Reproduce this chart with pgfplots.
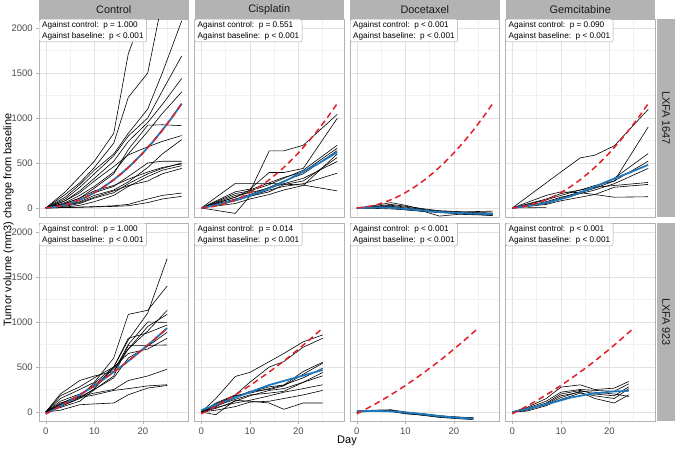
\documentclass[border=0pt]{standalone}
\usepackage{pgfplots}
\pgfplotsset{compat=1.18}
\usepackage{fontspec}
\setmainfont{Liberation Sans}
\definecolor{stripgray}{RGB}{179,179,179}
\definecolor{bordergray}{RGB}{179,179,179}
\definecolor{gridmaj}{RGB}{226,226,226}
\definecolor{gridmin}{RGB}{241,241,241}
\definecolor{fitblue}{RGB}{30,120,190}
\definecolor{ctrlred}{RGB}{226,30,38}
\definecolor{ticktext}{RGB}{77,77,77}
\definecolor{striptext}{RGB}{26,26,26}
\pgfplotsset{
  panel/.style={
    scale only axis, width=149.5pt, height=198pt, anchor=north west,
    xmin=-1.4, xmax=29.4, ymin=-100, ymax=2100,
    xtick={0,10,20}, minor xtick={5,15,25},
    ytick={0,500,1000,1500,2000}, minor ytick={250,750,1250,1750},
    grid=both,
    major grid style={draw=gridmaj, line width=0.55pt},
    minor grid style={draw=gridmin, line width=0.35pt},
    axis line style={draw=bordergray, line width=0.6pt},
    tick align=outside, xtick pos=left, ytick pos=left,
    major tick length=2.75pt, minor tick length=0pt,
    xtick style={draw=none}, ytick style={draw=none},
    xticklabels={}, yticklabels={},
    /pgf/number format/assume math mode=true,
    ticklabel style={font=\fontsize{9.5}{9.5}\selectfont, text=ticktext},
    clip mode=individual,
  },
  leftcol/.style={yticklabels={0,500,1000,1500,2000}, ytick style={draw=bordergray, line width=0.5pt}},
  bottomrow/.style={xticklabels={0,10,20}, xtick style={draw=bordergray, line width=0.5pt},
    xticklabel style={yshift=-0.6pt}},
}
\tikzset{
  ind/.style={black, line width=0.6pt, line join=round},
  bluefit/.style={fitblue, line width=1.8pt, line join=round},
  redfit/.style={ctrlred, line width=1.5pt, dash pattern=on 6pt off 4pt},
  pbox/.style={anchor=north west, draw=gray!70, fill=white, rounded corners=2pt,
    inner xsep=3pt, inner ysep=2.2pt, align=left, font=\fontsize{8.2}{10.7}\selectfont},
  stript/.style={text=striptext, font=\fontsize{10.9}{13}\selectfont},
}
\newcommand{\redA}{\addplot[redfit] coordinates {(0,0)(2,12)(4,35)(6,69)(8,114)(10,170)(12,237)(14,314)(16,402)(18,502)(20,612)(22,732)(24,864)(26,1006)(28,1160)};}
\newcommand{\redB}{\addplot[redfit] coordinates {(0,-20)(2,36)(4,95)(6,158)(8,224)(10,294)(12,368)(14,445)(16,525)(18,609)(20,698)(22,789)(24,884)(25,933)};}
\newcommand{\pb}[2]{\node[pbox] at (rel axis cs:0,1) {Against control:\ \ p #1\\Against baseline:\ \ p #2};}
\begin{document}
\begin{tikzpicture}
\path[use as bounding box] (0pt,0pt) rectangle (675pt,-448pt);
% ---------- Row 1: LXFA 1647 ----------
\begin{axis}[panel, leftcol, at={(39pt,-19pt)}]
\addplot[ind] coordinates {(0,0)(4,180)(7,350)(10,520)(14,830)(17,1715)(21,2300)(24,2700)(28,3000)};
\addplot[ind] coordinates {(0,0)(4,150)(7,280)(10,450)(14,720)(17,1230)(21,1500)(24,2300)(28,2700)};
\addplot[ind] coordinates {(0,0)(4,120)(7,260)(10,420)(14,600)(17,830)(21,1100)(24,1500)(28,2080)};
\addplot[ind] coordinates {(0,0)(4,100)(7,230)(10,380)(14,580)(17,800)(21,1000)(24,1300)(28,1690)};
\addplot[ind] coordinates {(0,0)(4,80)(7,190)(10,330)(14,520)(17,740)(21,950)(24,1150)(28,1440)};
\addplot[ind] coordinates {(0,0)(4,60)(7,140)(10,240)(14,400)(17,600)(21,850)(24,1050)(28,1290)};
\addplot[ind] coordinates {(0,0)(4,50)(7,110)(10,220)(14,380)(17,650)(21,920)(24,925)(28,915)};
\addplot[ind] coordinates {(0,0)(4,80)(7,170)(10,300)(14,460)(17,590)(21,680)(24,740)(28,805)};
\addplot[ind] coordinates {(0,0)(4,30)(7,70)(10,140)(14,200)(17,290)(21,450)(24,600)(28,760)};
\addplot[ind] coordinates {(0,0)(4,40)(7,90)(10,170)(14,240)(17,350)(21,500)(24,520)(28,520)};
\addplot[ind] coordinates {(0,0)(4,20)(7,50)(10,110)(14,170)(17,270)(21,380)(24,440)(28,500)};
\addplot[ind] coordinates {(0,0)(4,50)(7,110)(10,190)(14,250)(17,320)(21,400)(24,450)(28,490)};
\addplot[ind] coordinates {(0,0)(4,10)(7,30)(10,70)(14,140)(17,240)(21,350)(24,420)(28,470)};
\addplot[ind] coordinates {(0,0)(4,30)(7,60)(10,120)(14,190)(17,250)(21,300)(24,380)(28,440)};
\addplot[ind] coordinates {(0,0)(4,5)(7,10)(10,15)(14,25)(17,40)(21,100)(24,140)(28,166)};
\addplot[ind] coordinates {(0,0)(4,5)(7,8)(10,12)(14,18)(17,25)(21,60)(24,100)(28,130)};
\addplot[bluefit] coordinates {(0,0)(2,12)(4,35)(6,69)(8,114)(10,170)(12,237)(14,314)(16,402)(18,502)(20,612)(22,732)(24,864)(26,1006)(28,1160)};
\redA
\pb{= 1.000}{< 0.001}
\end{axis}
\begin{axis}[panel, at={(194.5pt,-19pt)}]
\addplot[ind] coordinates {(0,0)(7,120)(10,181)(14,635)(17,635)(21,697)(28,1040)};
\addplot[ind] coordinates {(0,0)(7,180)(10,210)(14,395)(17,395)(21,440)(28,996)};
\addplot[ind] coordinates {(0,0)(7,273)(10,273)(14,273)(17,265)(21,255)(28,190)};
\addplot[ind] coordinates {(0,0)(7,160)(10,190)(14,260)(17,330)(21,420)(28,697)};
\addplot[ind] coordinates {(0,0)(7,120)(10,200)(14,280)(17,340)(21,400)(28,664)};
\addplot[ind] coordinates {(0,0)(7,100)(10,150)(14,230)(17,300)(21,380)(28,638)};
\addplot[ind] coordinates {(0,0)(7,140)(10,170)(14,220)(17,270)(21,330)(28,517)};
\addplot[ind] coordinates {(0,0)(7,80)(10,130)(14,200)(17,240)(21,270)(28,387)};
\addplot[ind] coordinates {(0,0)(7,-60)(10,130)(14,180)(17,260)(21,300)(28,560)};
\addplot[ind] coordinates {(0,0)(7,50)(10,100)(14,150)(17,200)(21,250)(28,600)};
\addplot[bluefit] coordinates {(0,0)(4,45)(8,100)(12,175)(16,265)(20,375)(24,490)(28,620)};
\redA
\pb{= 0.551}{< 0.001}
\end{axis}
\begin{axis}[panel, at={(350pt,-19pt)}]
\addplot[ind] coordinates {(0,0)(4,30)(7,60)(10,30)(14,-20)(17,-40)(21,-50)(24,-55)(28,-60)};
\addplot[ind] coordinates {(0,0)(4,20)(7,40)(10,20)(14,-10)(17,-30)(21,-40)(24,-50)(28,-55)};
\addplot[ind] coordinates {(0,0)(4,10)(7,20)(10,0)(14,-30)(17,-50)(21,-60)(24,-70)(28,-75)};
\addplot[ind] coordinates {(0,0)(4,0)(7,10)(10,-10)(14,-40)(17,-90)(21,-70)(24,-75)(28,-80)};
\addplot[ind] coordinates {(0,0)(4,10)(7,0)(10,-20)(14,-40)(17,-50)(21,-60)(24,-70)(28,-85)};
\addplot[ind] coordinates {(0,0)(4,5)(7,15)(10,-5)(14,-30)(17,-40)(21,-45)(24,-40)(28,-35)};
\addplot[ind] coordinates {(0,0)(4,15)(7,30)(10,10)(14,-20)(17,-35)(21,-50)(24,-60)(28,-65)};
\addplot[ind] coordinates {(0,0)(4,-5)(7,-10)(10,-20)(14,-35)(17,-45)(21,-55)(24,-65)(28,-70)};
\addplot[bluefit] coordinates {(0,0)(4,5)(7,5)(10,-10)(14,-30)(17,-45)(21,-55)(24,-62)(28,-68)};
\redA
\pb{< 0.001}{< 0.001}
\end{axis}
\begin{axis}[panel, at={(505.5pt,-19pt)}]
\addplot[ind] coordinates {(0,0)(7,280)(10,400)(14,557)(17,587)(21,690)(28,1096)};
\addplot[ind] coordinates {(0,0)(7,70)(10,120)(14,170)(17,220)(21,300)(28,900)};
\addplot[ind] coordinates {(0,0)(7,60)(10,110)(14,180)(17,230)(21,330)(28,605)};
\addplot[ind] coordinates {(0,0)(7,90)(10,140)(14,200)(17,250)(21,300)(28,520)};
\addplot[ind] coordinates {(0,0)(7,50)(10,100)(14,160)(17,200)(21,270)(28,440)};
\addplot[ind] coordinates {(0,0)(7,100)(10,160)(14,200)(17,230)(21,250)(28,284)};
\addplot[ind] coordinates {(0,0)(7,40)(10,80)(14,120)(17,150)(21,230)(28,262)};
\addplot[ind] coordinates {(0,0)(7,140)(10,180)(14,170)(17,150)(21,120)(28,125)};
\addplot[ind] coordinates {(0,0)(7,5)};
\addplot[bluefit] coordinates {(0,0)(4,30)(8,70)(12,130)(16,215)(20,305)(24,390)(28,480)};
\redA
\pb{= 0.090}{< 0.001}
\end{axis}
% ---------- Row 2: LXFA 923 ----------
\begin{axis}[panel, leftcol, bottomrow, at={(39pt,-223pt)}]
\addplot[ind] coordinates {(0,-10)(3,80)(7,180)(10,320)(14,500)(17,800)(21,1100)(25,1705)};
\addplot[ind] coordinates {(0,0)(3,150)(7,250)(10,330)(14,600)(17,1085)(21,1130)(25,1400)};
\addplot[ind] coordinates {(0,0)(3,200)(7,350)(10,400)(14,450)(17,700)(21,950)(25,1085)};
\addplot[ind] coordinates {(0,0)(3,120)(7,200)(10,280)(14,450)(17,750)(21,1000)(25,996)};
\addplot[ind] coordinates {(0,-20)(3,60)(7,150)(10,260)(14,500)(17,820)(21,880)(25,967)};
\addplot[ind] coordinates {(0,0)(3,100)(7,170)(10,250)(14,380)(17,600)(21,730)(25,886)};
\addplot[ind] coordinates {(0,0)(3,180)(7,280)(10,380)(14,500)(17,650)(21,700)(25,819)};
\addplot[ind] coordinates {(0,0)(3,50)(7,120)(10,250)(14,400)(17,740)(21,740)(25,745)};
\addplot[ind] coordinates {(0,0)(3,90)(7,190)(10,300)(14,480)(17,700)(21,900)(25,1130)};
\addplot[ind] coordinates {(0,0)(3,80)(7,170)(10,210)(14,250)(17,350)(21,400)(25,476)};
\addplot[ind] coordinates {(0,0)(3,60)(7,160)(10,190)(14,240)(17,260)(21,290)(25,303)};
\addplot[ind] coordinates {(0,0)(3,20)(7,81)(10,90)(14,100)(17,192)(21,266)(25,295)};
\addplot[bluefit] coordinates {(0,-20)(2,36)(4,95)(6,158)(8,224)(10,294)(12,368)(14,445)(16,525)(18,609)(20,698)(22,789)(24,884)(25,933)};
\redB
\pb{= 1.000}{< 0.001}
\end{axis}
\begin{axis}[panel, bottomrow, at={(194.5pt,-223pt)}]
\addplot[ind] coordinates {(0,0)(3,150)(7,395)(10,440)(14,560)(17,650)(21,780)(25,856)};
\addplot[ind] coordinates {(0,0)(3,100)(7,190)(10,330)(14,500)(17,560)(21,720)(25,819)};
\addplot[ind] coordinates {(0,0)(3,80)(7,180)(10,220)(14,280)(17,300)(21,450)(25,553)};
\addplot[ind] coordinates {(0,0)(3,60)(7,160)(10,230)(14,250)(17,290)(21,420)(25,542)};
\addplot[ind] coordinates {(0,0)(3,90)(7,180)(10,210)(14,260)(17,300)(21,380)(25,487)};
\addplot[ind] coordinates {(0,0)(3,40)(7,120)(10,180)(14,240)(17,260)(21,330)(25,439)};
\addplot[ind] coordinates {(0,0)(3,70)(7,140)(10,190)(14,210)(17,230)(21,330)(25,402)};
\addplot[ind] coordinates {(0,0)(3,50)(7,100)(10,130)(14,180)(17,220)(21,260)(25,303)};
\addplot[ind] coordinates {(0,0)(3,20)(7,60)(10,110)(14,120)(17,150)(21,190)(25,240)};
\addplot[ind] coordinates {(0,0)(3,-30)(7,130)(10,120)(14,100)(17,30)(21,100)(25,100)};
\addplot[bluefit] coordinates {(0,20)(4,100)(9,200)(14,300)(20,390)(25,467)};
\redB
\pb{= 0.014}{< 0.001}
\end{axis}
\begin{axis}[panel, bottomrow, at={(350pt,-223pt)}]
\addplot[ind] coordinates {(0,0)(3,20)(7,25)(10,0)(14,-20)(17,-40)(21,-60)(24,-60)};
\addplot[ind] coordinates {(0,0)(3,15)(7,15)(10,-10)(14,-30)(17,-50)(21,-70)(24,-75)};
\addplot[ind] coordinates {(0,0)(3,10)(7,20)(10,-5)(14,-35)(17,-55)(21,-65)(24,-70)};
\addplot[ind] coordinates {(0,0)(3,5)(7,10)(10,-15)(14,-40)(17,-60)(21,-75)(24,-85)};
\addplot[ind] coordinates {(0,0)(3,10)(7,5)(10,-20)(14,-35)(17,-45)(21,-55)(24,-65)};
\addplot[bluefit] coordinates {(0,10)(4,12)(8,5)(12,-15)(16,-40)(20,-60)(24,-75)};
\redB
\pb{< 0.001}{< 0.001}
\end{axis}
\begin{axis}[panel, bottomrow, at={(505.5pt,-223pt)}]
\addplot[ind] coordinates {(0,0)(3,50)(7,150)(10,276)(14,302)(17,250)(21,265)(24,339)};
\addplot[ind] coordinates {(0,0)(3,40)(7,120)(10,220)(14,250)(17,240)(21,230)(24,313)};
\addplot[ind] coordinates {(0,0)(3,30)(7,100)(10,200)(14,240)(17,200)(21,180)(24,280)};
\addplot[ind] coordinates {(0,0)(3,20)(7,90)(10,180)(14,220)(17,150)(21,100)(24,191)};
\addplot[ind] coordinates {(0,0)(3,30)(7,80)(10,160)(14,230)(17,220)(21,200)(24,173)};
\addplot[ind] coordinates {(0,0)(3,10)(7,70)(10,140)(14,210)(17,180)(21,150)(24,260)};
\addplot[bluefit] coordinates {(0,0)(4,45)(8,100)(12,160)(16,200)(20,225)(24,236)};
\redB
\pb{< 0.001}{< 0.001}
\end{axis}
% ---------- strips ----------
\fill[stripgray] (39pt,0pt) rectangle (188.5pt,-19pt);
\node[stript] at (113.75pt,-9.8pt) {Control};
\fill[stripgray] (194.5pt,0pt) rectangle (344pt,-19pt);
\node[stript] at (269.25pt,-9.8pt) {Cisplatin};
\fill[stripgray] (350pt,0pt) rectangle (499.5pt,-19pt);
\node[stript] at (424.75pt,-9.8pt) {Docetaxel};
\fill[stripgray] (505.5pt,0pt) rectangle (655pt,-19pt);
\node[stript] at (580.25pt,-9.8pt) {Gemcitabine};
\fill[stripgray] (657pt,-19pt) rectangle (675pt,-217pt);
\node[stript, rotate=-90] at (666pt,-118pt) {LXFA 1647};
\fill[stripgray] (657pt,-223pt) rectangle (675pt,-421pt);
\node[stript, rotate=-90] at (666pt,-322pt) {LXFA 923};
\node[rotate=90, font=\fontsize{11}{13}\selectfont] at (8.5pt,-220pt) {Tumor volume (mm3) change from baseline};
\node[font=\fontsize{11}{13}\selectfont] at (347pt,-441pt) {Day};
\end{tikzpicture}
\end{document}
